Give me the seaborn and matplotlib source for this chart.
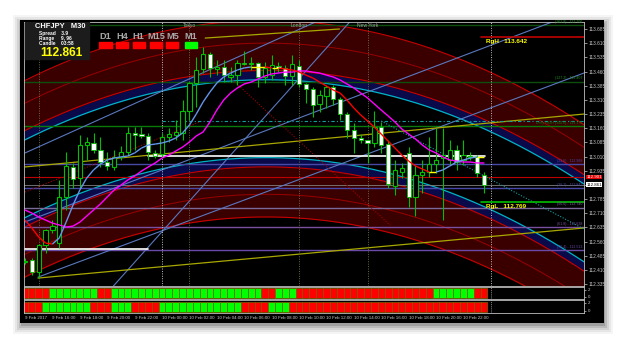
import numpy as np
import matplotlib
matplotlib.use("Agg")
import matplotlib.pyplot as plt
import seaborn as sns
from matplotlib.collections import LineCollection
from matplotlib.patches import Rectangle

# ============ Data (CHFJPY, M30) ============
open_ = [112.452, 112.462, 112.399, 112.542, 112.621, 112.552, 112.796, 112.955, 112.896, 113.071,
         113.082, 113.045, 112.981, 112.955, 113.008, 113.034, 113.135, 113.129, 113.119, 113.029,
         113.023, 113.113, 113.124, 113.135, 113.251, 113.399, 113.473, 113.553, 113.473, 113.484,
         113.431, 113.441, 113.505, 113.500, 113.505, 113.431, 113.441, 113.489, 113.479, 113.436,
         113.489, 113.394, 113.367, 113.288, 113.330, 113.378, 113.314, 113.235, 113.150, 113.108,
         113.098, 113.082, 113.166, 113.076, 112.854, 112.928, 113.029, 112.796, 112.912, 112.928,
         112.970, 113.002, 112.992, 113.045, 112.992, 113.008, 113.008, 112.912]
high = [112.473, 112.473, 112.547, 112.626, 112.674, 112.886, 113.034, 112.976, 113.124, 113.113,
        113.135, 113.113, 113.034, 113.045, 113.066, 113.166, 113.166, 113.166, 113.135, 113.045,
        113.135, 113.161, 113.203, 113.309, 113.404, 113.537, 113.590, 113.563, 113.521, 113.521,
        113.484, 113.521, 113.569, 113.537, 113.510, 113.510, 113.547, 113.510, 113.494, 113.547,
        113.521, 113.399, 113.378, 113.362, 113.389, 113.389, 113.325, 113.246, 113.187, 113.129,
        113.098, 113.251, 113.193, 113.098, 112.992, 112.976, 113.060, 112.965, 112.992, 113.113,
        113.161, 113.161, 113.098, 113.071, 113.098, 113.034, 113.018, 112.928]
low = [112.441, 112.383, 112.367, 112.499, 112.605, 112.526, 112.727, 112.843, 112.843, 112.992,
       113.029, 112.955, 112.939, 112.939, 112.992, 113.018, 113.045, 113.108, 112.992, 113.002,
       113.008, 113.087, 113.098, 113.098, 113.203, 113.272, 113.452, 113.431, 113.441, 113.404,
       113.404, 113.389, 113.494, 113.468, 113.378, 113.399, 113.415, 113.457, 113.389, 113.389,
       113.378, 113.293, 113.219, 113.246, 113.267, 113.283, 113.203, 113.108, 113.029, 113.082,
       112.976, 113.060, 113.029, 112.843, 112.806, 112.896, 112.743, 112.695, 112.817, 112.902,
       112.923, 112.674, 112.965, 112.939, 112.965, 112.992, 112.902, 112.817]
close = [112.457, 112.399, 112.542, 112.621, 112.642, 112.796, 112.960, 112.891, 113.071, 113.087,
         113.045, 112.981, 112.960, 113.008, 113.034, 113.135, 113.124, 113.119, 113.034, 113.013,
         113.113, 113.129, 113.140, 113.251, 113.399, 113.468, 113.553, 113.479, 113.484, 113.441,
         113.441, 113.505, 113.500, 113.505, 113.431, 113.479, 113.494, 113.479, 113.436, 113.500,
         113.394, 113.367, 113.283, 113.336, 113.378, 113.314, 113.235, 113.150, 113.108, 113.098,
         113.082, 113.166, 113.071, 112.865, 112.939, 112.949, 112.796, 112.912, 112.928, 112.970,
         112.992, 113.018, 113.045, 112.981, 113.018, 113.013, 112.923, 112.861]

# fast moving average (colour changes with direction)
fast_ma = [112.674, 112.632, 112.584, 112.552, 112.547, 112.579, 112.663, 112.753, 112.833, 112.896,
           112.939, 112.970, 112.992, 113.002, 113.008, 113.013, 113.029, 113.055, 113.071, 113.076,
           113.082, 113.092, 113.108, 113.135, 113.177, 113.235, 113.299, 113.352, 113.399, 113.431,
           113.452, 113.468, 113.479, 113.484, 113.484, 113.484, 113.479, 113.479, 113.473, 113.468,
           113.457, 113.441, 113.426, 113.404, 113.383, 113.362, 113.346, 113.309, 113.267, 113.230,
           113.198, 113.166, 113.129, 113.092, 113.055, 113.018, 112.986, 112.960, 112.944, 112.928,
           112.928, 112.939, 112.960, 112.981, 112.992, 113.002, 113.008, 113.008]
# slow moving average (magenta)
slow_ma = [112.727, 112.711, 112.690, 112.674, 112.658, 112.648, 112.637, 112.642, 112.663, 112.695,
           112.727, 112.759, 112.796, 112.833, 112.859, 112.886, 112.907, 112.933, 112.955, 112.976,
           113.002, 113.018, 113.039, 113.060, 113.087, 113.119, 113.140, 113.193, 113.256, 113.309,
           113.346, 113.373, 113.394, 113.404, 113.420, 113.436, 113.447, 113.452, 113.457, 113.457,
           113.463, 113.463, 113.457, 113.452, 113.441, 113.431, 113.415, 113.394, 113.373, 113.346,
           113.320, 113.288, 113.256, 113.225, 113.193, 113.156, 113.129, 113.103, 113.071, 113.045,
           113.029, 113.008, 112.992, 112.986, 112.981, 112.981, 112.976, 112.976]

# regression channel: centre read at a few bars, band half-widths
chan_bars = [0, 35, 65, 81]
chan_mid = [112.896, 113.198, 113.002, 112.663]
band_cyan, band_inner, band_mid, band_outer = 0.206, 0.255, 0.400, 0.520

# daily fibo levels
fib_prices = [113.706, 113.407, 113.172, 112.968, 112.842, 112.740, 112.638, 112.513]
fib_labels = ["(161.8) - 113.706", "(127.2) - 113.407", "Daily HIGH (100.0) - 113.172",
              "(23.6) - 112.968", "(38.2) - 112.842", "(50.0) - 112.740", "(61.8) - 112.638",
              "(76.4) - 112.513"]
fib_colors = ["#0d4d0d", "#0d4d0d", "#0a7a0a", "#4848a8", "#4848a8", "#7a6a9a", "#7a50a0", "#6a4aa8"]

rg_high, rg_low = 113.642, 112.769
bid, ask_line = 112.861, 112.901

# trend lines: (bar0, price0, bar1, price1)
blue_lines = [(1.9, 112.372, 81.6, 113.452), (0.0, 112.664, 81.6, 113.786),
              (0.0, 113.029, 42.4, 113.722), (12.9, 112.325, 47.4, 113.722)]
yellow_lines = [(1.9, 112.367, 81.6, 112.632), (0.0, 112.955, 81.6, 113.235),
                (26.3, 113.637, 45.9, 113.685)]
red_dotted = [(27.0, 113.526, 53.3, 112.647), (0.0, 112.822, 25.5, 113.193)]
teal_dash_price, teal_dash_from = 113.198, 20
teal_dotted = (52.0, 113.198, 81.6, 112.626)

# session separators
sess_bars = [2, 20, 24, 40, 50, 68]
sess_names = {24: "Tokyo", 40: "London", 50: "New York"}

# bottom trend-strength panels (1 = up / green, 0 = down / red)
panel1 = [0, 0, 0, 0, 1, 1, 1, 1, 1, 1, 1, 0, 0, 1, 1, 1, 1, 1, 1, 1,
          1, 1, 1, 1, 1, 1, 1, 1, 1, 1, 1, 1, 1, 1, 1, 0, 0, 1, 1, 1,
          0, 0, 0, 0, 0, 0, 0, 0, 0, 0, 0, 0, 0, 0, 0, 0, 0, 0, 0, 0,
          1, 1, 1, 1, 1, 1, 0, 0]
panel2 = [0, 0, 0, 1, 1, 1, 1, 1, 1, 1, 0, 0, 0, 1, 1, 1, 0, 0, 0, 0,
          1, 1, 1, 1, 1, 1, 1, 1, 1, 1, 1, 1, 0, 0, 0, 0, 1, 1, 1, 0,
          0, 0, 0, 0, 0, 0, 0, 0, 0, 0, 0, 0, 0, 0, 0, 0, 0, 0, 0, 0,
          0, 0, 0, 0, 0, 0, 0, 0]

time_labels = ["9 Feb 2017", "9 Feb 16:00", "9 Feb 18:00", "9 Feb 20:00", "9 Feb 22:00",
               "10 Feb 00:00", "10 Feb 02:00", "10 Feb 04:00", "10 Feb 06:00", "10 Feb 08:00",
               "10 Feb 10:00", "10 Feb 12:00", "10 Feb 14:00", "10 Feb 16:00", "10 Feb 18:00",
               "10 Feb 20:00", "10 Feb 22:00"]
price_ticks = [113.685, 113.610, 113.535, 113.460, 113.385, 113.310, 113.235, 113.160, 113.085,
               113.010, 112.935, 112.860, 112.785, 112.710, 112.635, 112.560, 112.485, 112.410, 112.335]

tf_names = ["D1", "H4", "H1", "M15", "M5", "M1"]
tf_up = [0, 0, 0, 0, 0, 1]

# ============ Style ============
sns.set_theme(style="dark")
plt.rcParams['font.family'] = ['Liberation Sans', 'DejaVu Sans']

W, H = 625, 346
fig = plt.figure(figsize=(W / 100, H / 100), dpi=100, facecolor="white")


def fax(x0, y0, x1, y1):
    # pixel box (top-left origin) -> figure axes
    return fig.add_axes([x0 / W, 1 - y1 / H, (x1 - x0) / W, (y1 - y0) / H])


# shadow + black frame
bg = fig.add_axes([0, 0, 1, 1])
bg.set_xlim(0, W)
bg.set_ylim(H, 0)
bg.axis("off")
for k, a in enumerate([0.04, 0.06, 0.08, 0.11, 0.15]):
    d = 10 - 2 * k
    bg.add_patch(Rectangle((20 - d + 3, 20 - d + 5), 584 + 2 * d - 4, 303 + 2 * d - 4,
                           color="black", alpha=a, lw=0))
bg.add_patch(Rectangle((20, 20), 584, 303, color="black", lw=0))

bars = np.arange(len(close))
XL = (-0.15, 81.6)
YL = (112.325, 113.722)
ax = fax(24, 22, 584, 286)
ax.set_facecolor("black")
ax.set_xlim(*XL)
ax.set_ylim(*YL)

# regression channel
xs = np.linspace(XL[0], XL[1], 300)
coef = np.polyfit(chan_bars, chan_mid, 2)
mid = np.polyval(coef, xs)
for s in (1, -1):
    ax.fill_between(xs, mid + s * band_cyan, mid + s * band_inner, color="#0a0a4a", lw=0, zorder=1)
    ax.fill_between(xs, mid + s * band_inner, mid + s * band_outer, color="#3a0000", lw=0, zorder=1)
    ax.plot(xs, mid + s * band_cyan, color="#00b4c8", lw=0.9, zorder=2)
    ax.plot(xs, mid + s * band_inner, color="#c80000", lw=0.8, zorder=2)
    ax.plot(xs, mid + s * band_mid, color="#9a0000", lw=0.7, zorder=2)
    ax.plot(xs, mid + s * band_outer, color="#c80000", lw=0.8, zorder=2)

# fibo levels
for p, lab, c in zip(fib_prices, fib_labels, fib_colors):
    ax.axhline(p, color=c, lw=1.0, zorder=2)
    ax.text(81.4, p + 0.006, lab, color=c if c != "#0d4d0d" else "#1f8f1f", fontsize=2.6,
            ha="right", va="bottom", zorder=9)
ax.axhline(ask_line, color="#c00000", lw=0.8, zorder=2)
ax.axhline(bid, color="#808080", lw=0.6, zorder=2)

# trend lines
for b0, p0, b1, p1 in blue_lines:
    ax.plot([b0, b1], [p0, p1], color="#5a78c0", lw=0.8, zorder=2)
for b0, p0, b1, p1 in yellow_lines:
    ax.plot([b0, b1], [p0, p1], color="#a8a800", lw=0.9, zorder=2)
for b0, p0, b1, p1 in red_dotted:
    ax.plot([b0, b1], [p0, p1], color="#a00000", lw=0.8, ls=(0, (1, 1.5)), zorder=2)
ax.plot([teal_dash_from, XL[1]], [teal_dash_price, teal_dash_price], color="#10a0a0", lw=0.8,
        ls=(0, (3, 2, 1, 2)), zorder=2)
ax.plot(teal_dotted[::2], teal_dotted[1::2], color="#10a0a0", lw=0.8, ls=(0, (1, 1.5)), zorder=2)

# session separators
for b in sess_bars:
    col = "#c0c0c0" if b in (20, 68) else "#6a6a40"
    ax.axvline(b, color=col, lw=0.7, ls=(0, (1, 1.5)), zorder=2)
    if b in sess_names:
        ax.text(b, 113.705, sess_names[b], color="#a0a0a0", fontsize=3.6, ha="center",
                va="center", zorder=9)

# pivot white lines
ax.plot([0, 18], [112.521, 112.521], color="white", lw=1.2, zorder=3)
ax.plot([18, 67.2], [113.013, 113.013], color="white", lw=1.2, zorder=3)

# range lines
ax.plot([66.5, 81.6], [rg_high, rg_high], color="#c00000", lw=1.2, zorder=3)
ax.plot([66.5, 81.6], [rg_low, rg_low], color="#00c000", lw=1.2, zorder=3)
ax.text(67.3, rg_high - 0.012, f"RgH   {rg_high:.3f}", color="#ffff00", fontsize=4.6,
        fontweight="bold", va="top", zorder=9)
ax.text(67.3, rg_low - 0.012, f"RgL   {rg_low:.3f}", color="#ffff00", fontsize=4.6,
        fontweight="bold", va="top", zorder=9)

# candles
o, h, l, c = map(np.array, (open_, high, low, close))
up = c >= o
lo_b = np.minimum(o, c)
hi_b = np.maximum(o, c)
ht = np.maximum(hi_b - lo_b, 0.004)
ax.vlines(bars, l, h, color="#00c000", lw=0.8, zorder=5)
ax.bar(bars[up], ht[up], bottom=lo_b[up], width=0.62, color="black", edgecolor="#00c000",
       lw=0.8, zorder=6)
ax.bar(bars[~up], ht[~up], bottom=lo_b[~up], width=0.62, color="white", edgecolor="#00c000",
       lw=0.6, zorder=6)

# moving averages
sns.lineplot(x=bars, y=slow_ma, color="#ff00ff", lw=1.0, ax=ax, zorder=7)
fm = np.array(fast_ma)
seg = np.stack([np.column_stack([bars[:-1], fm[:-1]]), np.column_stack([bars[1:], fm[1:]])], axis=1)
dif = np.diff(fm)
cols = ["#ffff00" if abs(d) < 0.0015 else ("#6495ed" if d > 0 else "#ff0000") for d in dif]
ax.add_collection(LineCollection(seg, colors=cols, lw=1.0, zorder=7))

# price axis
ax.yaxis.tick_right()
ax.set_yticks(price_ticks)
ax.set_yticklabels(["" if abs(p - bid) < 0.01 else f"{p:.3f}" for p in price_ticks])
ax.tick_params(axis="y", colors="#c8c8c8", labelsize=3.4, length=2, width=0.5, pad=1.5)
ax.set_xticks([])
for sp in ax.spines.values():
    sp.set_color("#c0c0c0")
    sp.set_linewidth(0.6)
ax.set_ylabel("")
ax.grid(False)

for p, fc, tc in [(ask_line, "#e00000", "white"), (bid, "white", "black")]:
    ax.text(1.004, (p - YL[0]) / (YL[1] - YL[0]), f"{p:.3f}", transform=ax.transAxes,
            fontsize=3.2, color=tc, va="center", ha="left", zorder=10,
            bbox=dict(boxstyle="square,pad=0.06", fc=fc, ec="none"))

# info box
ax.add_patch(Rectangle((0.04, 113.525), 9.3, 0.197, color="#1c1c1c", zorder=8))
ax.text(1.5, 113.697, "CHFJPY   M30", color="white", fontsize=5.4, fontweight="bold", va="center", zorder=9)
ax.text(2.0, 113.660, "Spread    3.9", color="white", fontsize=3.5, fontweight="bold", va="center", zorder=9)
ax.text(2.0, 113.633, "Range     9, 96", color="white", fontsize=3.5, fontweight="bold", va="center", zorder=9)
ax.text(2.0, 113.606, "Candle    03:58", color="white", fontsize=3.5, fontweight="bold", va="center", zorder=9)
ax.text(2.2, 113.560, f"{bid:.3f}", color="#ffff00", fontsize=8.6, fontweight="bold", va="center", zorder=9)

tf_x = [11.75, 14.2, 16.6, 19.1, 21.5, 24.2]
for x, name, u in zip(tf_x, tf_names, tf_up):
    ax.text(x, 113.643, name, color="#a8a8a8", fontsize=6.6, fontweight="bold", ha="center", va="center", zorder=9)
    ax.add_patch(Rectangle((x - 0.9, 113.584), 1.8, 0.032, color="#00ff00" if u else "#ff0000", zorder=9))

# bottom panels
for k, (vals, y0, y1) in enumerate([(panel1, 287, 299), (panel2, 300, 313)]):
    pa = fax(24, y0, 584, y1)
    pa.set_facecolor("black")
    v = np.array(vals)
    pa.bar(bars, 1, width=1.0, color=np.where(v == 1, "#00ff00", "#ff0000"),
           edgecolor="#806000", lw=0.5)
    pa.set_xlim(*XL)
    pa.set_ylim(-0.15, 1.15)
    pa.yaxis.tick_right()
    pa.set_yticks([0.1, 0.85])
    pa.set_yticklabels(["0", "2"])
    pa.tick_params(axis="y", colors="#c8c8c8", labelsize=3.2, length=1.5, width=0.5, pad=1.5)
    pa.set_xticks([])
    pa.axvline(68, color="#c0c0c0", lw=0.6, ls=(0, (1, 1.5)))
    for sp in pa.spines.values():
        sp.set_color("#c0c0c0")
        sp.set_linewidth(0.6)
    pa.grid(False)
    if k == 1:
        tb = list(range(0, 68, 4))
        pa.set_xticks(tb)
        pa.set_xticklabels(time_labels, ha="left")
        pa.tick_params(axis="x", colors="#c8c8c8", labelsize=3.2, length=1.5, width=0.5, pad=1.0)

fig.savefig("out.png", dpi=100, facecolor="white")
